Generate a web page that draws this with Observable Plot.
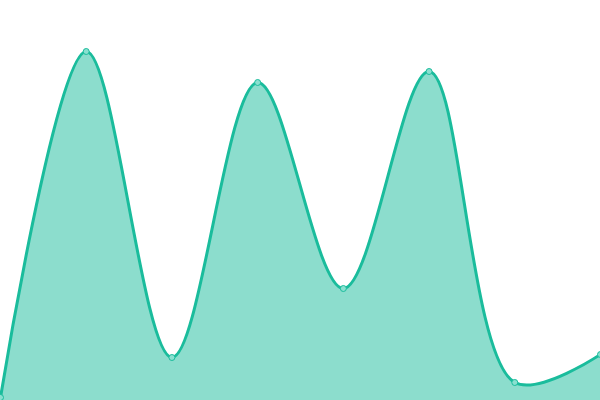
<!DOCTYPE html>
<html><head><meta charset="utf-8">
<script src="https://cdn.jsdelivr.net/npm/d3@7"></script>
<script src="https://cdn.jsdelivr.net/npm/@observablehq/plot@0.6"></script>
<style>body{margin:0;background:#fff}</style>
</head><body><div id="chart"></div>
<script>
const categories = [0, 1, 2, 3, 4, 5, 6, 7];
const values = [3, 349, 43, 318, 112, 329, 18, 46];
const data = categories.map((c, i) => ({x: c, y: values[i]}));
const chart = Plot.plot({
  width: 600, height: 400,
  margin: 0,
  x: {domain: [0, 7], axis: null},
  y: {domain: [0, 400], axis: null},
  marks: [
    Plot.areaY(data, {x: "x", y: "y", curve: "catmull-rom", fill: "#1abc9c", fillOpacity: 0.5}),
    Plot.lineY(data, {x: "x", y: "y", curve: "catmull-rom", stroke: "#1abc9c", strokeWidth: 3}),
    Plot.dot(data, {x: "x", y: "y", r: 3, fill: "#8ae0d0", stroke: "#1abc9c", strokeWidth: 1})
  ]
});
document.getElementById("chart").append(chart);
</script></body></html>
